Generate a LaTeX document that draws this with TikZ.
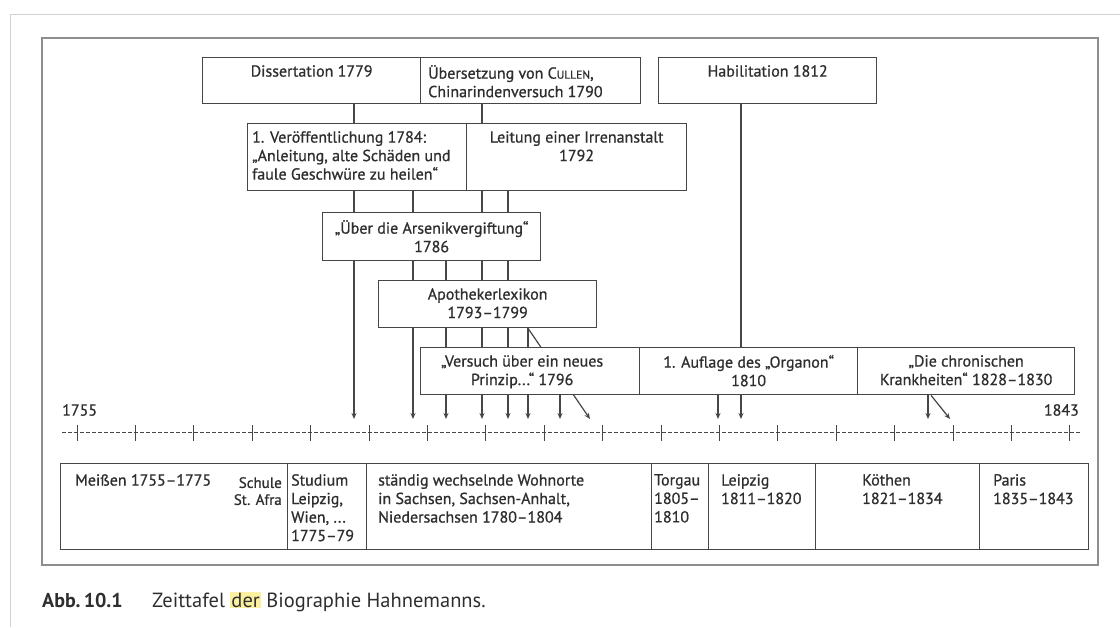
\documentclass[tikz,border=0pt]{standalone}
\usepackage{fontspec}
\setmainfont{PT Sans}
\newfontfamily\boxfont{PT Sans}[FakeBold=0.8]
\usetikzlibrary{arrows.meta,positioning}
\definecolor{Ink}{HTML}{2E2E2E}
\definecolor{Edge}{HTML}{464646}
\definecolor{Frame}{HTML}{8E8E8E}
\definecolor{Shot}{HTML}{D2D2D2}
\definecolor{Mark}{HTML}{FBF0A0}

\begin{document}
\begin{tikzpicture}[x=1pt,y=-1pt,
    cell/.style={draw=Edge,line width=1.3pt,fill=white,anchor=north west,inner sep=0pt},
    txt/.style={font=\boxfont\fontsize{16}{18.5}\selectfont,text=Ink,inner sep=0pt},
    link/.style={Edge,line width=1.2pt,-{Stealth[length=6pt,width=5pt]}}]
  \useasboundingbox (0,0) rectangle (1120,627);
  \draw[Shot,line width=1pt] (10,627) -- (10,14) -- (1120,14);
  \draw[Frame,line width=1.5pt] (42,38) rectangle (1098,565);
  % arrow tips above the time line
  \foreach \yr/\x in {1779/354,1784/413,1786/446,1790/482,1792/508,1793/528,
                      1796/560,1799/590,1810/718,1812/741,1828/928,1830/950}
    \coordinate (t\yr) at (\x,419);

  % first row
  \node[cell,minimum width=218,minimum height=46] (diss) at (202,57) {};
  \node[cell,minimum width=220,minimum height=46] (cull) at (420,57) {};
  \node[cell,minimum width=218,minimum height=46] (habil) at (658,57) {};
  \node[txt,below=8pt of diss.north] (diss-t) {Dissertation 1779};
  \node[txt,align=left,below right=8pt and 8pt of cull.north west] (cull-t)
    {Übersetzung von C{\fontsize{11.5}{13}\selectfont ULLEN},\\Chinarindenversuch 1790};
  \node[txt,below=8pt of habil.north] (habil-t) {Habilitation 1812};
  \draw[link] (diss.south -| t1779) -- (t1779);
  \draw[link] (cull.south -| t1790) -- (t1790);
  \draw[link] (habil.south -| t1812) -- (t1812);

  % second row
  \node[cell,minimum width=219,minimum height=67] (veroe) at (247,123) {};
  \node[cell,minimum width=220,minimum height=67] (leit) at (466,123) {};
  \node[txt,align=left,below right=8pt and 5pt of veroe.north west] (veroe-t)
    {1. Veröffentlichung 1784:\\„Anleitung, alte Schäden und\\faule Geschwüre zu heilen“};
  \node[txt,align=center,below=8pt of leit.north] (leit-t) {Leitung einer Irrenanstalt\\1792};
  \draw[link] (veroe.south -| t1784) -- (t1784);
  \draw[link] (leit.south -| t1792) -- (t1792);

  \node[cell,minimum width=218,minimum height=48] (arsen) at (322,212) {};
  \node[txt,align=center,below=8pt of arsen.north] (arsen-t) {„Über die Arsenikvergiftung“\\1786};
  \draw[link] (arsen.south -| t1786) -- (t1786);

  \node[cell,minimum width=218,minimum height=47] (apoth) at (378,280) {};
  \node[txt,align=center,below=8pt of apoth.north] (apoth-t) {Apothekerlexikon\\1793–1799};
  \draw[link] (apoth.south -| t1793) -- (t1793);
  \draw[link] (apoth.south -| t1793) -- (t1799);

  % fourth row
  \node[cell,minimum width=219,minimum height=47] (versu) at (420,347) {};
  \node[cell,minimum width=218,minimum height=47] (organ) at (639,347) {};
  \node[cell,minimum width=217,minimum height=47] (chron) at (857,347) {};
  \node[txt,align=center,below=8pt of versu.north,xshift=-8pt] (versu-t) {„Versuch über ein neues\\Prinzip...“ 1796};
  \node[txt,align=center,below=8pt of organ.north] (organ-t) {1. Auflage des „Organon“\\1810};
  \node[txt,align=center,below=8pt of chron.north] (chron-t) {„Die chronischen\\Krankheiten“ 1828–1830};
  \draw[link] (versu.south -| t1796) -- (t1796);
  \draw[link] (organ.south -| t1810) -- (t1810);
  \draw[link] (chron.south -| t1828) -- (t1828);
  \draw[link] ([xshift=3pt]chron.south -| t1828) -- (t1830);

  % time line
  \draw[Edge,line width=0.9pt,dash pattern=on 3.5pt off 2.5pt] (62,432) -- (1081,432);
  \foreach \k in {0,...,17}
    \draw[Edge,line width=1pt] ({77+58.4*\k},425) -- ({77+58.4*\k},441);
  \node[txt,anchor=west] (y1755) at (62,410) {1755};
  \node[txt,anchor=east] (y1843) at (1079,410) {1843};

  % places
  \foreach \n/\xa/\xb in {meis/60/287,stud/287/366,wohn/366/651,torg/651/708,
                          leip/708/815,koet/815/979,pari/979/1088} {
    \pgfmathsetmacro\w{\xb-\xa}
    \node[cell,minimum width=\w,minimum height=86] (\n) at (\xa,463) {};
  }
  \node[txt,anchor=north west] (meis-t) at (75,474) {Meißen 1755–1775};
  \node[txt,align=right,anchor=north east,font=\boxfont\fontsize{15}{17}\selectfont] (afra-t) at (282,477) {Schule\\St. Afra};
  \node[txt,align=left,anchor=north west] (stud-t) at (291,474) {Studium\\Leipzig,\\Wien, ...\\1775–79};
  \node[txt,align=left,anchor=north west] (wohn-t) at (378,474)
    {ständig wechselnde Wohnorte\\in Sachsen, Sachsen-Anhalt,\\Niedersachsen 1780–1804};
  \node[txt,align=left,anchor=north west] (torg-t) at (654,474) {Torgau\\1805–\\1810};
  \node[txt,align=left,anchor=north west] (leip-t) at (721,474) {Leipzig\\1811–1820};
  \node[txt,align=left,anchor=north west] (koet-t) at (862,474) {Köthen\\1821–1834};
  \node[txt,align=left,anchor=north west] (pari-t) at (993,474) {Paris\\1835–1843};

  % caption
  \node[anchor=base west,font=\fontsize{20}{24}\selectfont\bfseries,text=Ink,inner sep=0pt]
    (cap-n) at (42,607) {Abb.\,10.1};
  \node[anchor=base west,font=\fontsize{20.5}{24}\selectfont,text=Ink,inner sep=0pt]
    (cap-t) at (152,607) {Zeittafel {\setlength{\fboxsep}{1pt}\colorbox{Mark}{der}} Biographie Hahnemanns.};
\end{tikzpicture}
\end{document}
